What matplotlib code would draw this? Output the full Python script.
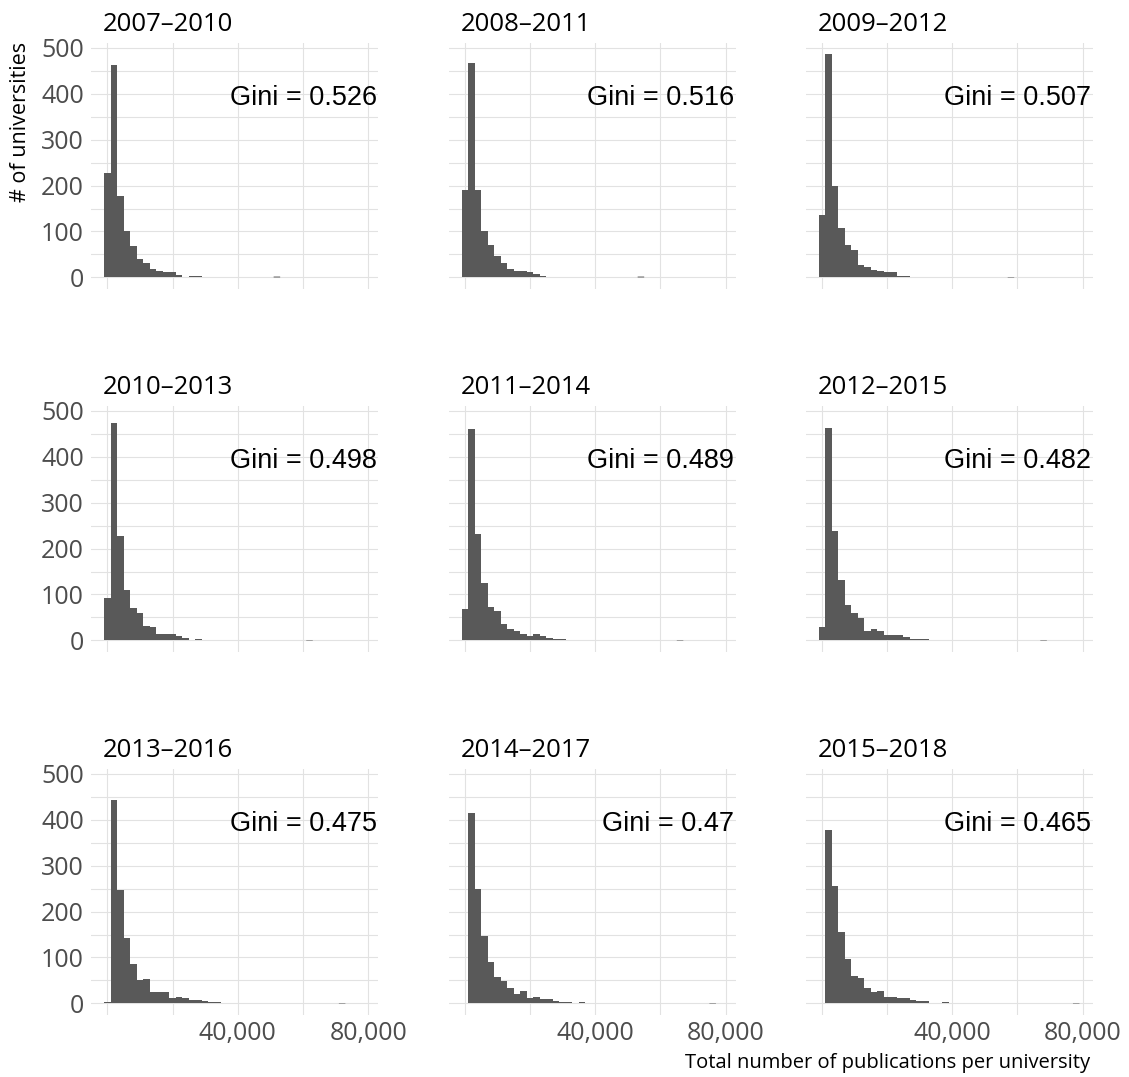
import numpy as np
import matplotlib
matplotlib.use("Agg")
import matplotlib.pyplot as plt

# Periods, one facet each
periods = ["2007–2010", "2008–2011", "2009–2012",
           "2010–2013", "2011–2014", "2012–2015",
           "2013–2016", "2014–2017", "2015–2018"]
gini = ["0.526", "0.516", "0.507", "0.498", "0.489", "0.482", "0.475", "0.47", "0.465"]

# histogram counts, bins of 2,000 publications centred on 0, 2000, 4000, ...
counts = [
    [227, 463, 178, 100, 68, 41, 31, 18, 15, 11, 11, 6, 2, 3, 3, 1],
    [190, 467, 190, 102, 70, 46, 32, 18, 15, 13, 11, 7, 4, 2, 1, 0, 1],
    [136, 486, 199, 108, 70, 60, 28, 23, 17, 13, 12, 11, 4, 4, 2, 2, 0, 1],
    [93, 472, 227, 109, 71, 60, 31, 30, 15, 13, 13, 10, 6, 2, 4, 2, 2, 0, 1],
    [68, 460, 231, 124, 72, 64, 36, 26, 21, 15, 10, 13, 10, 6, 3, 4, 1, 2, 1, 1],
    [30, 462, 238, 132, 77, 59, 48, 20, 25, 20, 11, 11, 11, 7, 3, 3, 4, 1, 1, 0, 1],
    [4, 443, 246, 142, 86, 51, 53, 25, 24, 24, 12, 15, 11, 8, 7, 5, 4, 4, 2, 1, 1, 2],
    [0, 415, 249, 147, 91, 57, 48, 34, 20, 27, 11, 15, 10, 10, 6, 3, 4, 1, 4, 2, 1, 0, 1],
    [0, 378, 255, 155, 97, 60, 55, 33, 26, 28, 15, 15, 11, 11, 8, 5, 5, 1, 1, 3, 1, 1, 0, 1, 1],
]
# one isolated large university per period
tail_x = [52000, 54000, 58000, 62000, 66000, 68000, 72000, 76000, 78000]
tail_n = [2, 2, 1, 1, 1, 1, 1, 1, 1]
bin_w = 2000

W, H = 1129, 1077
fig = plt.figure(figsize=(W / 100, H / 100), dpi=100)

col_left = [91, 448.5, 805.5]
row_top = [43, 406, 769]
pw, ph = 287, 245.5

FONT = ["Open Sans", "DejaVu Sans"]
GRID = "#E2E2E2"
BAR = "#595959"
TXT = "#4D4D4D"

for i, per in enumerate(periods):
    r, c = divmod(i, 3)
    ax = fig.add_axes([col_left[c] / W, 1 - (row_top[r] + ph) / H, pw / W, ph / H])
    n = counts[i]
    edges = np.arange(len(n) + 1) * bin_w - bin_w / 2
    # one filled outline per histogram -> no seams between bins
    ax.stairs(n, edges, fill=True, color=BAR, linewidth=0, zorder=2)
    ax.bar([tail_x[i]], [tail_n[i]], width=bin_w, color=BAR, linewidth=0,
           snap=False, zorder=2)

    ax.set_xlim(-5000, 83000)
    ax.set_ylim(-24, 510)
    ax.set_xticks([0, 20000, 40000, 60000, 80000])
    if r == 2:
        ax.set_xticklabels(["", "", "40,000", "", "80,000"])
    else:
        ax.set_xticklabels([])
    ax.set_yticks([0, 100, 200, 300, 400, 500])
    ax.set_yticks([50, 150, 250, 350, 450], minor=True)
    if c == 0:
        ax.set_yticklabels(["0", "100", "200", "300", "400", "500"])
    else:
        ax.set_yticklabels([])
    ax.tick_params(length=0, which="both", labelsize=18, labelcolor=TXT, pad=5)
    for lab in ax.get_xticklabels() + ax.get_yticklabels():
        lab.set_family(FONT)
    ax.grid(True, which="both", color=GRID, linewidth=0.8, zorder=0)
    ax.set_axisbelow(True)
    for s in ax.spines.values():
        s.set_visible(False)

    ax.text(12 / pw, 1 + 12 / ph, per, transform=ax.transAxes, ha="left",
            va="baseline", fontsize=18.5, family=FONT, color="black")
    ax.text(82600, 391, f"Gini = {gini[i]}", ha="right", va="center",
            fontsize=19.5, family=["Liberation Sans", "DejaVu Sans"], color="black")

fig.text(21 / W, 1 - 122 / H, "# of universities", rotation=90, ha="center",
         va="center", fontsize=15.5, family=FONT, color="black")
fig.text(1090 / W, 1 - 1063 / H, "Total number of publications per university",
         ha="right", va="center", fontsize=14.5, family=FONT, color="black")

fig.savefig("out.png", dpi=100)
